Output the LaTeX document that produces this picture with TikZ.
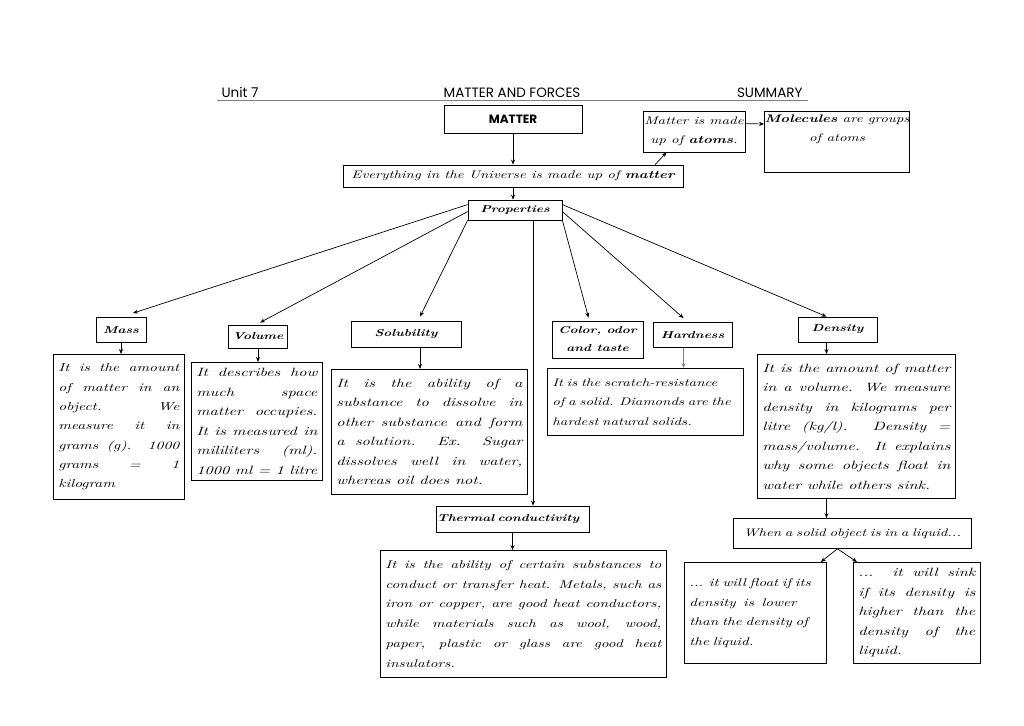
\documentclass[tikz,border=0pt]{standalone}
\usepackage{fontspec}
\usetikzlibrary{calc,arrows.meta}

\newfontfamily\handfont{lmroman10}[Extension=.otf, UprightFont=*-regular,
  ItalicFont=*-italic, BoldFont=*-bold, BoldItalicFont=*-bolditalic, FakeStretch=1.35]
\newfontfamily\headfont{Poppins}
\hyphenpenalty=10000
\exhyphenpenalty=10000

\begin{document}
\begin{tikzpicture}[x=1pt, y=-1pt,
    box/.style={draw, line width=0.8pt, inner sep=0pt, align=center},
    title/.style={box, font=\handfont\bfseries\itshape\fontsize{10}{18}\selectfont},
    textbox/.style={box, font=\handfont\itshape\fontsize{11}{19}\selectfont},
    desc/.style={draw, line width=0.8pt, anchor=north west, inner xsep=5pt, inner ysep=3pt,
      align=justify, font=\handfont\itshape\fontsize{12}{19.5}\selectfont},
    head/.style={font=\headfont\fontsize{13.5}{15}\selectfont},
    link/.style={-{Stealth[length=5pt,width=4pt]}, line width=0.7pt}]

    % Fix the page size
    \fill[white] (0,0) rectangle (1024,725);
    \useasboundingbox (0,0) rectangle (1024,725);

    % Header of the sheet
    \node[head, anchor=base west] (unit) at (218,97) {Unit 7};
    \node[head, anchor=base] (topic) at (512,97) {MATTER AND FORCES};
    \node[head, anchor=base east] (summary) at (806,97) {SUMMARY};
    \draw[gray, line width=1.5pt] (217,100.5) -- (808,100.5);

    % Top of the map
    \node[box, minimum width=138pt, minimum height=28pt,
      font=\headfont\bfseries\fontsize{12}{14}\selectfont] (matter) at (513,119) {MATTER};
    \node[textbox, minimum width=340pt, minimum height=22pt] (everything) at (513,176)
      {Everything in the Universe is made up of \textbf{matter}};
    \node[textbox, minimum width=102pt, minimum height=41pt] (atoms) at (694,131.5)
      {Matter is made\\up of \textbf{atoms}.};
    \node[textbox, anchor=north, minimum width=142pt, inner ysep=3pt, text depth=28pt]
      (molecules) at (837,111) {\textbf{Molecules} are groups\\of atoms};
    \node[title, minimum width=94pt, minimum height=20pt] (properties) at (515,210) {Properties};

    \draw[link] (matter) -- (everything);
    \draw[link] (everything.south) -- (everything.south |- properties.north);
    \draw[link] ($(everything.north)+(142,0)$) -- ($(atoms.south west)+(24,0)$);
    \draw[link] ($(atoms.north east)+(0,13)$) -- ($(molecules.north west)+(0,13)$);

    % The properties
    \node[title, minimum width=50pt, minimum height=25pt] (mass) at (121,330) {Mass};
    \node[title, minimum width=59pt, minimum height=23pt] (volume) at (258,336.5) {Volume};
    \node[title, minimum width=110pt, minimum height=26pt] (solubility) at (406,334) {Solubility};
    \node[title, minimum width=91pt, minimum height=37pt] (color) at (597.5,339.5) {Color, odor\\and taste};
    \node[title, minimum width=79pt, minimum height=25pt] (hardness) at (692.5,335) {Hardness};
    \node[title, minimum width=79pt, minimum height=25pt] (density) at (837.5,329.5) {Density};
    \node[title, minimum width=153pt, minimum height=26pt, text width=151pt, align=left]
      (thermal) at (512.5,519) {Thermal conductivity};

    \draw[link] ($(properties.north west)+(0,5)$) -- ($(mass.north)+(12,-4)$);
    \draw[link] ($(properties.north west)+(0,12)$) -- ($(volume.north)+(2,-2)$);
    \draw[link] (properties.south west) -- ($(solubility.north)+(14,-4)$);
    \draw[link] (properties.south east) -- ($(color.north)+(-9,-3)$);
    \draw[link] ($(properties.north east)+(0,12)$) -- ($(hardness.north)+(-9,-4)$);
    \draw[link] ($(properties.north east)+(0,5)$) -- ($(density.north)+(-11,0)$);
    \coordinate (tc) at ($(properties.south)+(18,0)$);
    \draw[link] (tc) -- (tc |- thermal.north);

    % Descriptions
    \node[desc, text width=121pt, minimum height=145pt,
      font=\handfont\itshape\fontsize{11.5}{19.3}\selectfont] (massdesc) at (53,354)
      {It is the amount of matter in an\linebreak object. We measure it in grams (g). 1000 grams = 1 kilogram};
    \node[desc, text width=121pt, minimum height=118pt] (voldesc) at (191,362)
      {It describes how much space matter occupies. It is measured in mililiters (ml). 1000 ml = 1 litre};
    \node[desc, text width=186pt, minimum height=125pt] (soldesc) at (331,369)
      {It is the ability of a substance to dissolve in other substance and form a solution. Ex. Sugar dissolves well in water, whereas oil does not.};
    \node[desc, text width=186pt, minimum height=67pt, align=left,
      font=\handfont\itshape\fontsize{11}{19.5}\selectfont] (harddesc) at (547,368)
      {It is the scratch-resistance of a solid. Diamonds are the hardest natural solids.};
    \node[desc, text width=188pt, minimum height=144pt] (densdesc) at (757,354)
      {It is the amount of matter in a volume. We measure density in kilograms per litre (kg/l). Density = mass/volume. It explains why some objects float in water while others sink.};
    \node[desc, text width=276pt, minimum height=127pt,
      font=\handfont\itshape\fontsize{11.3}{19.7}\selectfont] (thermdesc) at (380,550)
      {It is the ability of certain substances to conduct or transfer heat. Metals, such as iron or copper, are good heat conductors, while materials such as wool, wood,\linebreak paper, plastic or glass are good heat insulators.};

    \draw[link] (mass.south) -- (mass.south |- massdesc.north);
    \draw[link] (volume.south) -- (volume.south |- voldesc.north);
    \coordinate (sc) at ($(solubility.south)+(14,0)$);
    \draw[link] (sc) -- (sc |- soldesc.north);
    \coordinate (hc) at ($(hardness.south)+(-9,0)$);
    \draw[link, gray] (hc) -- (hc |- harddesc.north);
    \coordinate (dc) at ($(density.south)+(-11,0)$);
    \draw[link] (dc) -- (dc |- densdesc.north);
    \draw[link] (thermal.south) -- (thermal.south |- thermdesc.north);

    % Floating and sinking
    \node[desc, text width=228pt, minimum height=30pt, align=center,
      font=\handfont\itshape\fontsize{11}{19}\selectfont] (liquid) at (733,518)
      {When a solid object is in a liquid...};
    \node[desc, text width=132pt, minimum height=101pt, align=left,
      font=\handfont\itshape\fontsize{11.2}{19.5}\selectfont] (float) at (684,562)
      {... it will float if its\\density \ is \ lower\\than the density of\\the liquid.};
    \node[desc, text width=117pt, minimum height=101pt] (sink) at (853,562)
      {... it will sink if its density is higher than the density of the liquid.};

    \draw[link] (dc |- densdesc.south) -- (dc |- liquid.north);
    \coordinate (lc) at ($(liquid.south)+(-15,0)$);
    \draw[link] (lc) -- ($(float.north east)+(-6,0)$);
    \draw[link] (lc) -- ($(sink.north west)+(4,0)$);

\end{tikzpicture}
\end{document}
